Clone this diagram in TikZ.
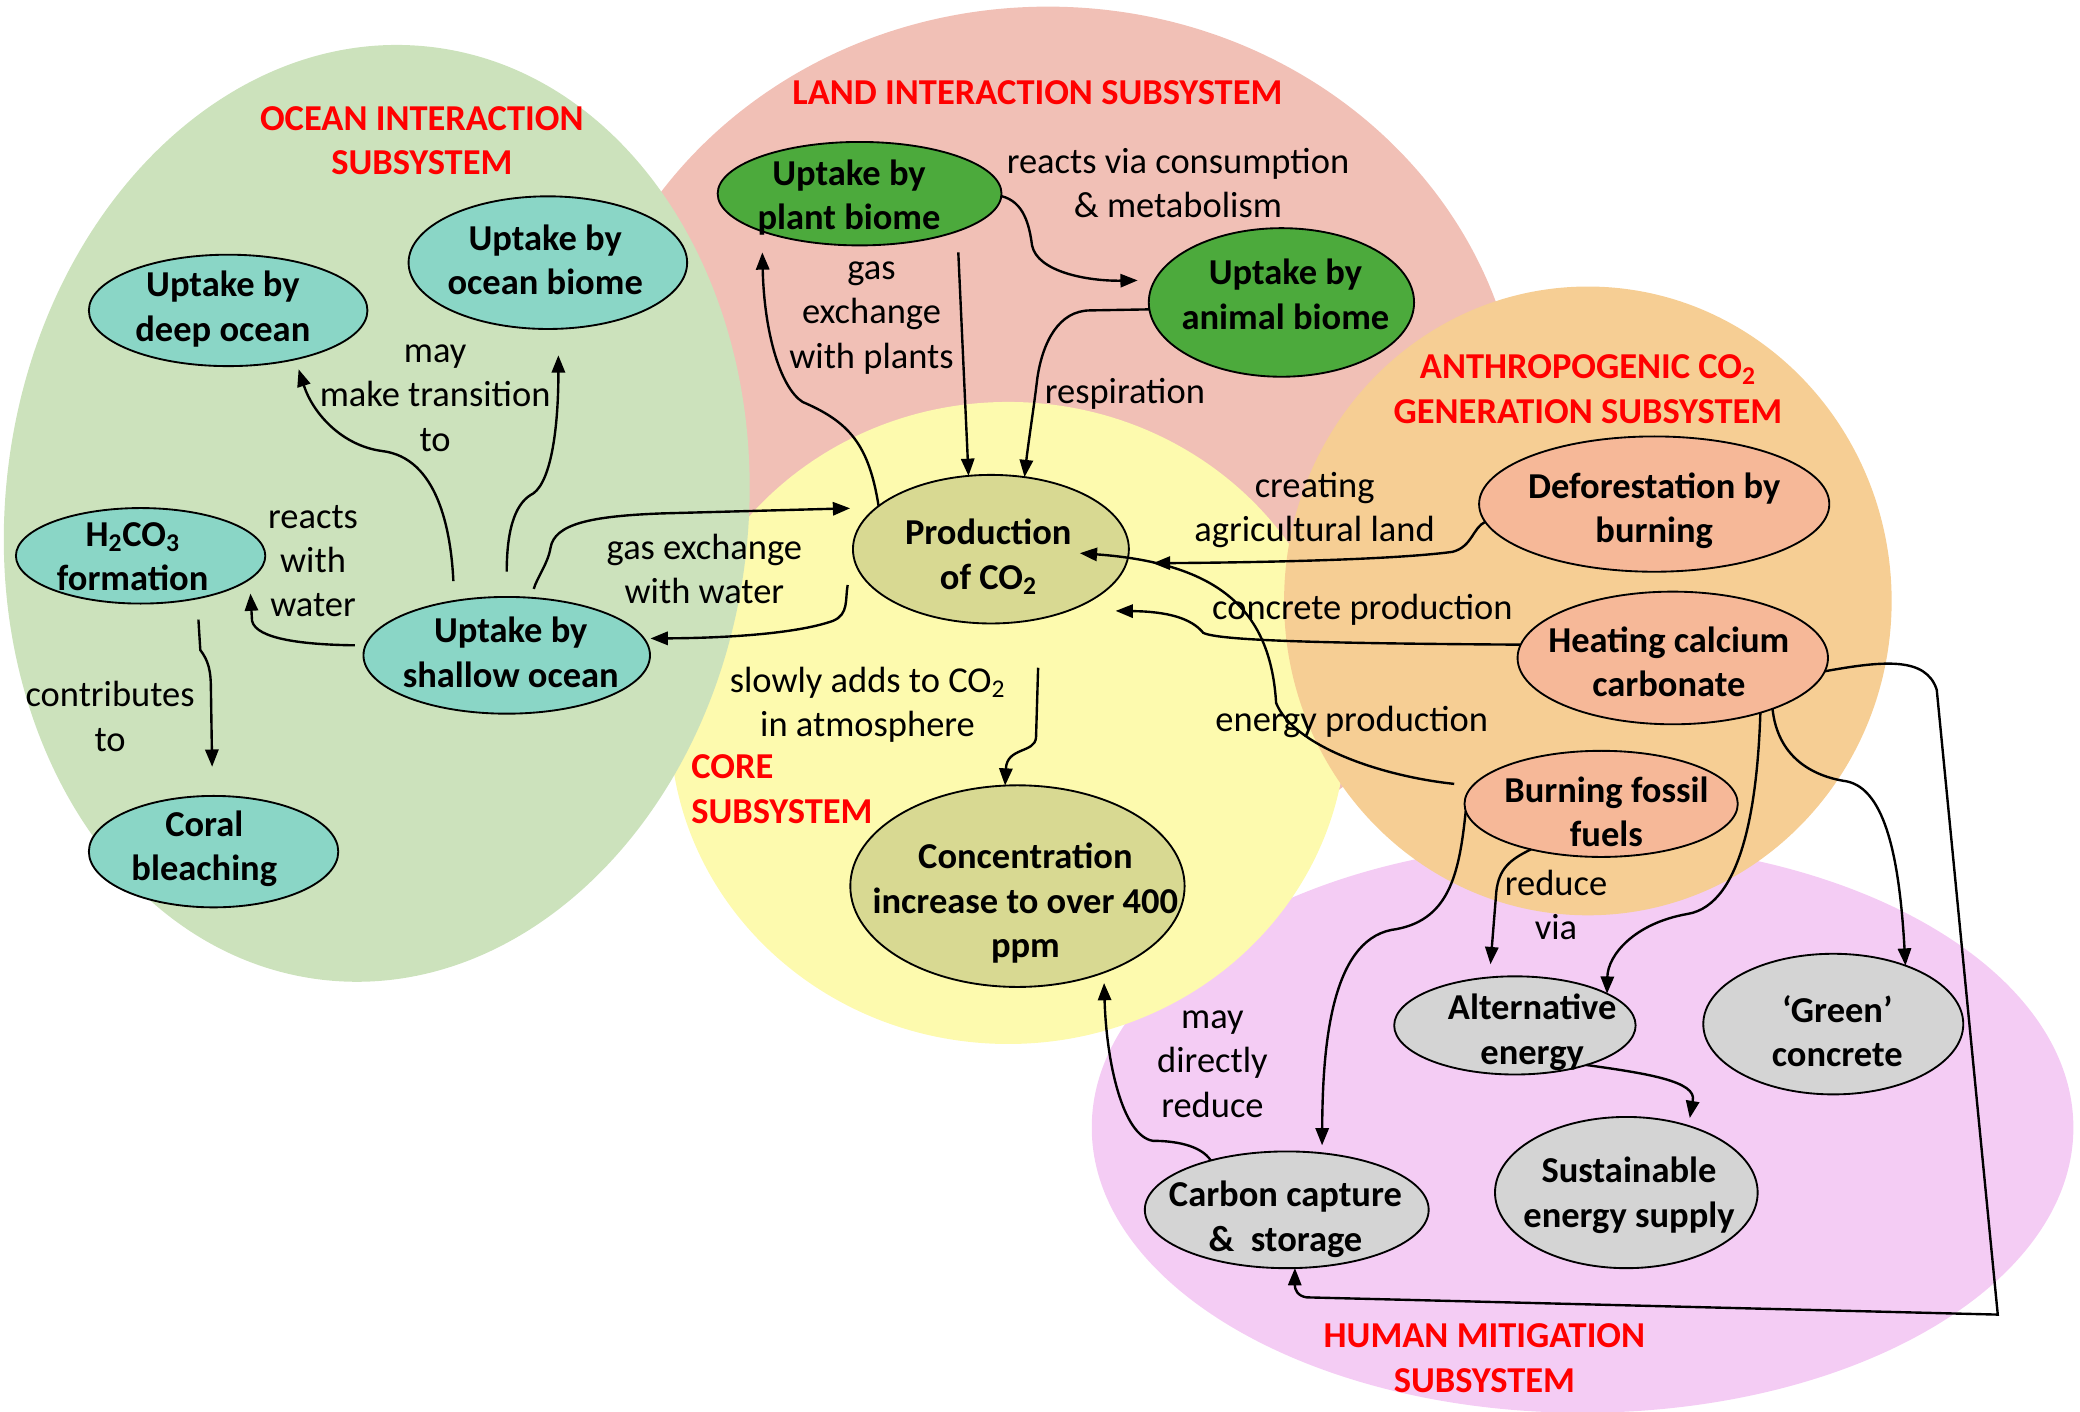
\documentclass[tikz,border=0pt]{standalone}
\usepackage{fontspec}
\setmainfont{Carlito}
\usetikzlibrary{arrows.meta,shapes.geometric}
\definecolor{oceanbg}{RGB}{204,226,188}
\definecolor{landbg}{RGB}{241,192,182}
\definecolor{corebg}{RGB}{253,250,174}
\definecolor{anthbg}{RGB}{246,206,148}
\definecolor{mitbg}{RGB}{244,204,244}
\definecolor{tealnode}{RGB}{138,214,198}
\definecolor{greennode}{RGB}{76,170,60}
\definecolor{olivenode}{RGB}{216,217,146}
\definecolor{salmonnode}{RGB}{246,184,152}
\definecolor{graynode}{RGB}{212,212,212}
\definecolor{titlered}{RGB}{255,0,0}
% #1 horizontal shift, #2 vertical shift (up), #3 lines
\newcommand{\nt}[3]{\smash{\makebox[0pt]{\kern#1\relax\raisebox{\dimexpr -0.25em - 2pt + #2\relax}{\begin{tabular}{@{}c@{}}#3\end{tabular}}\kern-#1\relax}}}
\begin{document}
\begin{tikzpicture}[x=1pt,y=-1pt,
 every node/.style={font=\fontsize{27.5}{33.5}\selectfont},
 bub/.style={shape=ellipse, draw=black, line width=1.4pt, inner sep=0pt, outer sep=0pt, font=\fontsize{27.5}{33.5}\selectfont\bfseries},
 oc/.style={bub, fill=tealnode},
 ld/.style={bub, fill=greennode},
 cr/.style={bub, fill=olivenode},
 an/.style={bub, fill=salmonnode},
 mt/.style={bub, fill=graynode},
 lbl/.style={inner sep=0pt, align=center},
 sub/.style={inner sep=0pt, align=center, text=titlered, font=\fontsize{27.5}{33.5}\selectfont\bfseries},
 arr/.style={line width=1.8pt, -{Triangle[length=13pt,width=10pt]}},
]
\useasboundingbox (0,0) rectangle (1568,1064);
% subsystem backgrounds
\fill[mitbg] (1193,850) ellipse [x radius=370, y radius=215];
\fill[landbg] (790,335) ellipse [x radius=357, y radius=330];
\fill[corebg] (760,545) ellipse [x radius=255, y radius=242];
\fill[oceanbg, rotate around={-6.65:(284,387)}] (284,387) ellipse [x radius=280, y radius=354];
\fill[anthbg] (1197,453) ellipse [x radius=229, y radius=237];

% subsystem titles
\node[sub] (t-ocean) at (318,106) {OCEAN INTERACTION\\SUBSYSTEM};
\node[sub] (t-land) at (782,70) {LAND INTERACTION SUBSYSTEM};
\node[sub] (t-anth) at (1197,293.5) {ANTHROPOGENIC CO\textsubscript{2}\\GENERATION SUBSYSTEM};
\node[sub, anchor=west, align=left] (t-core) at (521,595) {CORE\\SUBSYSTEM};
\node[sub] (t-mit) at (1119,1024) {HUMAN MITIGATION\\SUBSYSTEM};

% nodes
\node[oc, minimum width=210pt, minimum height=84pt] (deep) at (172,234) {\nt{-4pt}{3pt}{Uptake by\\deep ocean}};
\node[oc, minimum width=210pt, minimum height=100pt] (obio) at (413,198) {\nt{-2pt}{2pt}{Uptake by\\ocean biome}};
\node[oc, minimum width=188pt, minimum height=72pt] (h2co3) at (106,419) {\nt{-6pt}{0pt}{H\textsubscript{2}CO\textsubscript{3}\\formation}};
\node[oc, minimum width=216pt, minimum height=88pt] (shallow) at (382,494) {\nt{3pt}{2pt}{Uptake by\\shallow ocean}};
\node[oc, minimum width=188pt, minimum height=84pt] (coral) at (161,642) {\nt{-7pt}{4pt}{Coral\\bleaching}};
\node[ld, minimum width=214pt, minimum height=78pt] (plant) at (648,146) {\nt{-8pt}{-1pt}{Uptake by\\plant biome}};
\node[ld, minimum width=200pt, minimum height=112pt] (animal) at (966,228) {\nt{3pt}{6pt}{Uptake by\\animal biome}};
\node[cr, minimum width=208pt, minimum height=112pt] (prod) at (747,414) {\nt{-2pt}{-4pt}{Production\\of CO\textsubscript{2}}};
\node[cr, minimum width=252pt, minimum height=152pt] (conc) at (767,668) {\nt{6pt}{-11pt}{Concentration\\increase to over 400\\ppm}};
\node[an, minimum width=264pt, minimum height=102pt] (defor) at (1247,380) {\nt{0pt}{-3pt}{Deforestation by\\burning}};
\node[an, minimum width=234pt, minimum height=100pt] (heat) at (1261,496) {\nt{-3pt}{-3pt}{Heating calcium\\carbonate}};
\node[an, minimum width=206pt, minimum height=80pt] (fossil) at (1207,606) {\nt{4pt}{-6pt}{Burning fossil\\fuels}};
\node[mt, minimum width=182pt, minimum height=74pt] (alt) at (1142,773) {\nt{13pt}{-3pt}{Alternative\\energy}};
\node[mt, minimum width=196pt, minimum height=106pt] (green) at (1382,772) {\nt{3pt}{-6pt}{‘Green’\\concrete}};
\node[mt, minimum width=198pt, minimum height=114pt] (sust) at (1226,899) {\nt{2pt}{0pt}{Sustainable\\energy supply}};
\node[mt, minimum width=214pt, minimum height=88pt] (ccs) at (970,912) {\nt{-1pt}{-5pt}{Carbon capture\\\& ~storage}};

% connector labels
\node[lbl] (l-consump) at (888,138) {reacts via consumption\\\& metabolism};
\node[lbl] (l-gasplant) at (657,239.5) {gas\\exchange\\with plants};
\node[lbl] (l-resp) at (848,297) {respiration};
\node[lbl] (l-trans) at (328,300) {may\\make transition\\to};
\node[lbl] (l-react) at (236,423) {reacts\\with\\water};
\node[lbl] (l-gaswater) at (531,429) {gas exchange\\with water};
\node[lbl] (l-contrib) at (83,540) {contributes\\to};
\node[lbl] (l-slowly) at (654,531.5) {slowly adds to CO\textsubscript{2}\\in atmosphere};
\node[lbl] (l-agri) at (991,384.5) {creating\\agricultural land};
\node[lbl] (l-concrete) at (1027,460) {concrete production};
\node[lbl] (l-energy) at (1019,544) {energy production};
\node[lbl] (l-reduce) at (1173,682) {reduce\\via};
\node[lbl] (l-direct) at (914,802) {may\\directly\\reduce};

\coordinate (c6s) at (639,441);

% connectors
\draw[arr, shorten >=13pt] (plant.-1) .. controls (772,152) and (776,170) .. (778,185) .. controls (782,205) and (820,212) .. (animal.170);
\draw[arr] (animal.183) -- (822,234) .. controls (798,234) and (786,258) .. (782,285) .. controls (779,310) and (775,335) .. (prod.65);
\draw[arr, shorten <=16pt] (plant.-21) -- (prod.107);
\draw[arr, shorten >=16pt] (prod.159) .. controls (655,335) and (640,318) .. (605,303) .. controls (588,292) and (576,250) .. (plant.201);
\draw[arr, shorten <=7pt, shorten >=20pt] (shallow.67) .. controls (405,435) and (413,425) .. (415,413) .. controls (418,395) and (445,389) .. (500,387) -- (prod.160);
\draw[arr, shorten >=5pt] (c6s) .. controls (637,452) and (640,463) .. (628,468) .. controls (600,478) and (545,481) .. (shallow.7);
\draw[arr, shorten <=15pt, shorten >=8pt] (shallow.134) .. controls (340,400) and (330,345) .. (288,340) .. controls (258,336) and (236,312) .. (deep.-36);
\draw[arr, shorten <=19pt, shorten >=20pt] (shallow.90) .. controls (382,395) and (390,378) .. (402,372) .. controls (416,362) and (421,320) .. (obio.-81);
\draw[arr, shorten <=8pt, shorten >=11pt] (shallow.176) .. controls (230,486) and (193,482) .. (190,468) -- (h2co3.-12);
\draw[arr, shorten <=16pt, shorten >=22pt] (h2co3.-37) -- (151,490) .. controls (157,498) and (159,505) .. (159,520) -- (coral.91);
\draw[arr, shorten <=37pt] (prod.-55) -- (781,556) .. controls (780,568) and (759,563) .. (conc.97);
\draw[arr, shorten >=20pt] (defor.186) .. controls (1110,398) and (1110,412) .. (1095,416) .. controls (1050,422) and (950,424) .. (prod.-6);
\draw[arr, shorten >=35pt] (heat.175) .. controls (1000,485) and (918,483) .. (907,477) .. controls (898,466) and (880,461) .. (prod.-38);
\draw[arr, shorten <=14pt] (fossil.172) .. controls (1040,585) and (975,562) .. (962,530) .. controls (958,465) and (925,425) .. ([xshift=67pt,yshift=-3pt]prod.center);
\draw[arr] (heat.-5) .. controls (1420,498) and (1452,495) .. (1460,520) -- (1506,991) -- (985,978) .. controls (978,977) and (976,972) .. (ccs.-82);
\draw[arr] (heat.-27) .. controls (1340,570) and (1365,585) .. (1392,589) .. controls (1422,595) and (1432,650) .. (green.39);
\draw[arr] (heat.-32) .. controls (1325,600) and (1315,682) .. (1272,689) .. controls (1232,696) and (1212,720) .. (alt.19);
\draw[arr, shorten >=10pt] (fossil.-147) .. controls (1138,648) and (1130,655) .. (1128,672) -- (alt.118);
\draw[arr, shorten >=6pt] (fossil.183) .. controls (1100,660) and (1092,695) .. (1049,701) .. controls (1003,710) and (997,790) .. (ccs.58);
\draw[arr, shorten >=6pt] (alt.-29) .. controls (1240,809) and (1280,815) .. (1276,830) -- (sust.47);
\draw[arr, shorten >=8pt] (ccs.147) .. controls (905,863) and (885,860) .. (869,860) .. controls (846,856) and (834,800) .. (conc.-45);
\end{tikzpicture}
\end{document}
